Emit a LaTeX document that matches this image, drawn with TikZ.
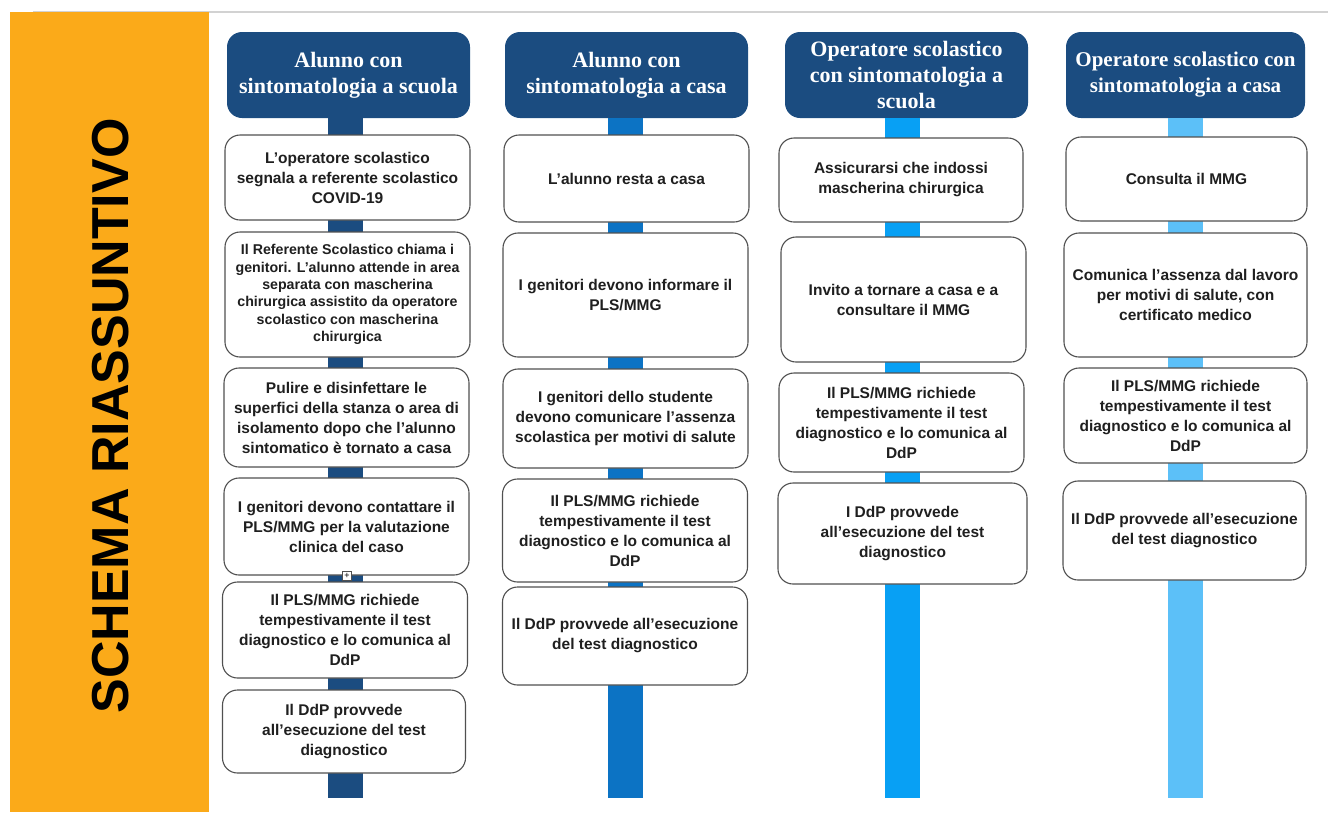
\documentclass[tikz,border=0pt]{standalone}
\usepackage{fontspec}
\newfontfamily\boxfont{Liberation Sans}
\newfontfamily\headfont{Liberation Serif}
\definecolor{navy}{RGB}{27,76,128}
\definecolor{barB}{RGB}{12,115,196}
\definecolor{barC}{RGB}{8,160,244}
\definecolor{barD}{RGB}{92,192,248}
\definecolor{schemaorange}{RGB}{251,170,25}
\definecolor{boxline}{RGB}{80,80,80}
\tikzset{
  head/.style={rounded corners=15pt, fill=navy, text=white, minimum width=243pt,
    minimum height=86pt, align=center, inner sep=2pt,
    font=\headfont\bfseries\fontsize{22}{26}\selectfont},
  stepbox/.style={draw=boxline, line width=1.1pt, rounded corners=15pt, fill=white,
    text=black!88, minimum width=245pt, align=center, inner sep=2pt,
    font=\boxfont\bfseries\fontsize{15.5}{20}\selectfont},
  dense/.style={font=\boxfont\bfseries\fontsize{14.2}{17.4}\selectfont},
  bar/.style={line width=35pt},
}
\begin{document}
\begin{tikzpicture}[x=1pt,y=-1pt]
\useasboundingbox (0,0) rectangle (1328,812);
\draw[gray!35, line width=2pt] (33,12) -- (1328,12);
\fill[schemaorange] (10,12) rectangle (209,812);
\node (title) at (111,416) [rotate=90, text=black,
  font=\boxfont\bfseries\fontsize{52}{52}\selectfont] {SCHEMA RIASSUNTIVO};

\node[head] (h1) at (348.5,75) {Alunno con\\sintomatologia a scuola};
\node[head] (h2) at (626.5,75) {Alunno con\\sintomatologia a casa};
\node[head] (h3) at (906.5,75) {Operatore scolastico\\con sintomatologia a\\scuola};
\node[head, minimum width=239pt, font=\headfont\bfseries\fontsize{21}{26}\selectfont] (h4) at (1185.5,75) {Operatore scolastico con\\sintomatologia a casa};

\coordinate (e1) at (345,798);
\coordinate (e2) at (625.5,798);
\coordinate (e3) at (902.5,798);
\coordinate (e4) at (1185.5,798);
\draw[bar, navy] (h1.south -| e1) -- (e1);
\draw[bar, barB] (h2.south -| e2) -- (e2);
\draw[bar, barC] (h3.south -| e3) -- (e3);
\draw[bar, barD] (h4.south -| e4) -- (e4);

% alunno a scuola
\node[stepbox, minimum height=85pt] (a1) at (347.5,177.5) {L’operatore scolastico\\segnala a referente scolastico\\COVID-19};
\node[stepbox, dense, minimum height=125pt] (a2) at (347.5,294.5) {Il Referente Scolastico chiama i\\genitori. L’alunno attende in area\\separata con mascherina\\chirurgica assistito da operatore\\scolastico con mascherina\\chirurgica};
\node[stepbox, minimum height=99pt] (a3) at (346.5,417.5) {Pulire e disinfettare le\\superfici della stanza o area di\\isolamento dopo che l’alunno\\sintomatico è tornato a casa};
\node[stepbox, minimum height=97pt] (a4) at (346.5,526.5) {I genitori devono contattare il\\PLS/MMG per la valutazione\\clinica del caso};
\node[stepbox, minimum height=96pt] (a5) at (345,630) {Il PLS/MMG richiede\\tempestivamente il test\\diagnostico e lo comunica al\\DdP};
\node[stepbox, minimum width=243pt, minimum height=83pt] (a6) at (344,731.5) {Il DdP provvede\\all’esecuzione del test\\diagnostico};
\node[draw=boxline, fill=white, line width=0.6pt, minimum size=9pt, inner sep=0pt,
  font=\boxfont\fontsize{9}{9}\selectfont] (plus) at (347,576) {+};

% alunno a casa
\node[stepbox, minimum height=87pt] (b1) at (626.5,178.5) {L’alunno resta a casa};
\node[stepbox, minimum height=124pt] (b2) at (625.5,295) {I genitori devono informare il\\PLS/MMG};
\node[stepbox, minimum height=99pt] (b3) at (625.5,418.5) {I genitori dello studente\\devono comunicare l’assenza\\scolastica per motivi di salute};
\node[stepbox, minimum height=103pt] (b4) at (625,530.5) {Il PLS/MMG richiede\\tempestivamente il test\\diagnostico e lo comunica al\\DdP};
\node[stepbox, minimum height=98pt] (b5) at (625,636) {Il DdP provvede all’esecuzione\\del test diagnostico};

% operatore a scuola
\node[stepbox, minimum width=244pt, minimum height=84pt] (c1) at (901,180) {Assicurarsi che indossi\\mascherina chirurgica};
\node[stepbox, minimum height=125pt] (c2) at (903.5,299.5) {Invito a tornare a casa e a\\consultare il MMG};
\node[stepbox, minimum height=99pt] (c3) at (901.5,422.5) {Il PLS/MMG richiede\\tempestivamente il test\\diagnostico e lo comunica al\\DdP};
\node[stepbox, minimum width=249pt, minimum height=101pt] (c4) at (902.5,533.5) {I DdP provvede\\all’esecuzione del test\\diagnostico};

% operatore a casa
\node[stepbox, minimum width=241pt, minimum height=84pt] (d1) at (1186.5,179) {Consulta il MMG};
\node[stepbox, minimum width=243pt, minimum height=124pt] (d2) at (1185.5,295) {Comunica l’assenza dal lavoro\\per motivi di salute, con\\certificato medico};
\node[stepbox, minimum width=243pt, minimum height=95pt] (d3) at (1185.5,415.5) {Il PLS/MMG richiede\\tempestivamente il test\\diagnostico e lo comunica al\\DdP};
\node[stepbox, minimum width=243pt, minimum height=99pt] (d4) at (1184.5,530.5) {Il DdP provvede all’esecuzione\\del test diagnostico};
\end{tikzpicture}
\end{document}
